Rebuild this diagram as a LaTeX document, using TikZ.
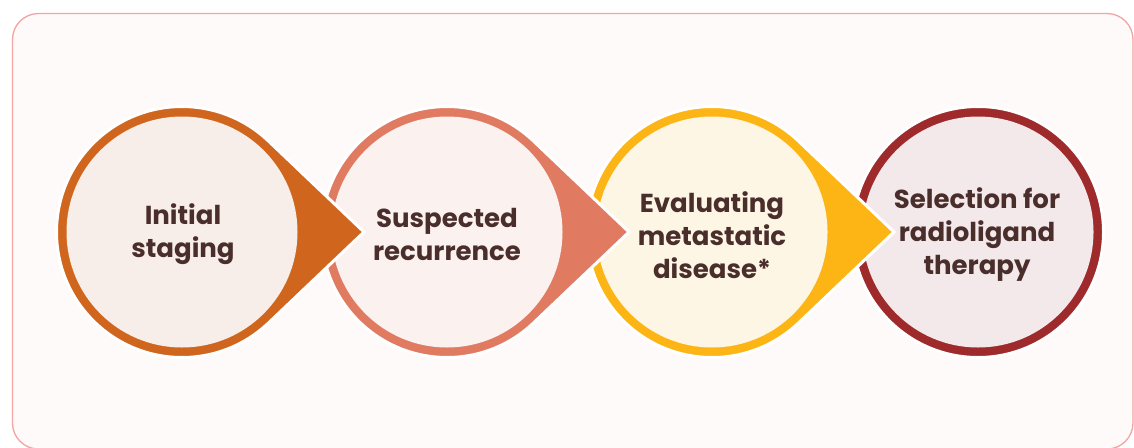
\documentclass[tikz,border=0pt]{standalone}
\usepackage{fontspec}
\setmainfont{Poppins}
\usetikzlibrary{calc}

\definecolor{frameline}{HTML}{F2A3A3}
\definecolor{framefill}{HTML}{FEFAF9}
\definecolor{ringA}{HTML}{D0661E}
\definecolor{fillA}{HTML}{F8EEE9}
\definecolor{ringB}{HTML}{E07B62}
\definecolor{fillB}{HTML}{FBF1EF}
\definecolor{ringC}{HTML}{FDB515}
\definecolor{fillC}{HTML}{FDF6E5}
\definecolor{ringD}{HTML}{9E2A2B}
\definecolor{fillD}{HTML}{F3E9EA}
\definecolor{labeltext}{HTML}{4A2E2C}

\tikzset{
  steplabel/.style={align=center, text=labeltext, font=\bfseries\fontsize{26}{33}\selectfont, inner sep=0pt}
}

% teardrop stage: #1 centre, #2 ring colour, #3 inner fill
\newcommand{\stagedrop}[3]{%
  \fill[#2, draw=white, line width=3pt]
    ($(#1)+(182,0)$) -- ($(#1)+(46.4:125.5)$)
    arc[start angle=46.4, end angle=313.6, radius=125.5] -- cycle;
  \fill[#3] (#1) circle[radius=115.5];
}

\begin{document}
\begin{tikzpicture}[x=1pt, y=-1pt]
  \useasboundingbox (0,0) rectangle (1134,447);
  \clip (0,0) rectangle (1134,447);
  \fill[white] (0,0) rectangle (1134,447);

  % outer panel
  \draw[frameline, fill=framefill, line width=1.3pt, rounded corners=26pt]
    (12.5,13.5) rectangle (1133,449);

  \coordinate (c1) at (182,232);
  \coordinate (c2) at (447,232);
  \coordinate (c3) at (712,232);
  \coordinate (c4) at (978,232);

  % last stage: a plain ring
  \fill[ringD, draw=white, line width=3pt] (c4) circle[radius=125.5];
  \fill[fillD] (c4) circle[radius=115.5];

  % drawn right to left so each point lies over the following ring
  \stagedrop{c3}{ringC}{fillC}
  \stagedrop{c2}{ringB}{fillB}
  \stagedrop{c1}{ringA}{fillA}

  \node[steplabel] (t1) at (183,234) {Initial\\staging};
  \node[steplabel] (t2) at (447,234) {Suspected\\recurrence};
  \node[steplabel] (t3) at (712,235) {Evaluating\\metastatic\\disease*};
  \node[steplabel] (t4) at (977,235) {Selection for\\radioligand\\therapy};
\end{tikzpicture}
\end{document}
